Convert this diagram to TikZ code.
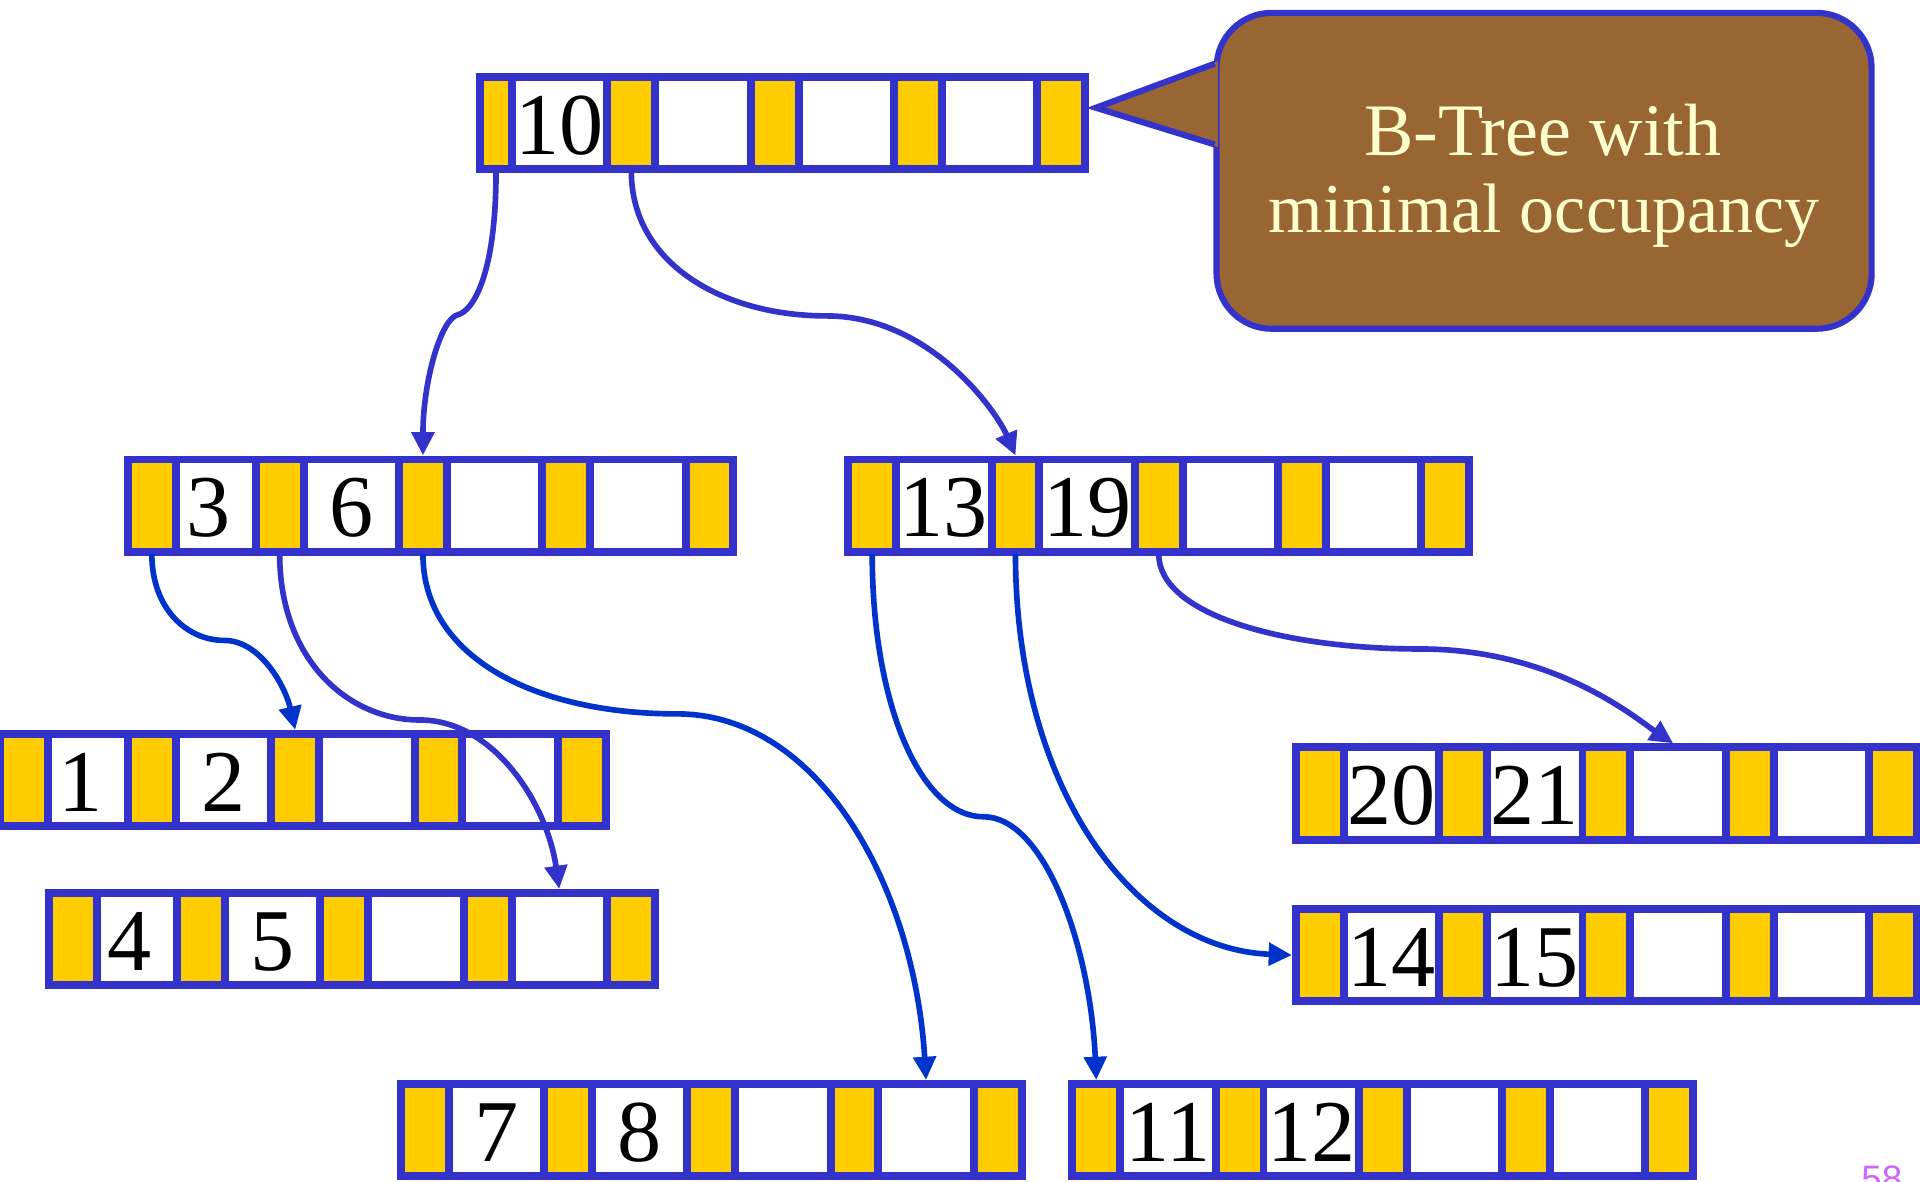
\documentclass[tikz,border=0pt]{standalone}
\usepackage{fontspec}
\setmainfont{Liberation Serif}
\newfontfamily\sansf{Liberation Sans}
\usetikzlibrary{arrows.meta,calc}
\definecolor{bblue}{HTML}{3333CC}
\definecolor{ablue}{HTML}{0033CC}
\definecolor{byel}{HTML}{FFCC00}
\definecolor{bbrown}{HTML}{996633}
\definecolor{btext}{HTML}{FFFFCC}
\definecolor{pnum}{HTML}{CC66FF}
\tikzset{
 ycell/.style={fill=byel, inner sep=0, outer sep=0, minimum height=69pt},
 wcell/.style={fill=white, inner sep=0, outer sep=0, minimum height=69pt},
 keytext/.style={inner sep=0, outer sep=0, font=\fontsize{72}{80}\selectfont,
   text height=48pt, text depth=0pt},
 link/.style={line width=4.6pt, -{Triangle[length=19pt,width=18pt]}},
 linka/.style={link, draw=bblue},
 linkb/.style={link, draw=ablue},
 ctext/.style={text=btext, inner sep=0, anchor=base},
}
\newcommand{\btnode}[7]{%
 \pgfmathsetmacro\bL{#2}%
 \pgfmathsetmacro\bT{#3}%
 \pgfmathsetmacro\bYa{#4}%
 \pgfmathsetmacro\bWa{#5}%
 \pgfmathsetmacro\bS{(\bWa-71.4)/2}%
 \pgfmathsetmacro\bX{\bL+19.5+\bYa+\bWa}%
 \pgfmathsetmacro\bR{\bX+390.1}%
 \fill[bblue] (\bL,\bT) rectangle (\bR,{\bT+82});
 \node[ycell, minimum width=\bYa pt] (#1-y1) at ({\bL+6.5+\bYa/2},{\bT+41}) {};
 \node[wcell, minimum width=\bWa pt] (#1-w1) at ({\bL+13+\bYa+\bWa/2},{\bT+41}) {};
 \foreach \i in {2,...,5} \node[ycell, minimum width=32.6pt] (#1-y\i) at ({\bX+(\i-2)*117+16.3},{\bT+41}) {};
 \foreach \i in {2,3,4} \node[wcell, minimum width=71.4pt] (#1-w\i) at ({\bX+(\i-2)*117+74.8},{\bT+41}) {};
 \node[keytext] (#1-k1) at ($(#1-w1.center)+(\bS,1.5)$) {#6};
 \node[keytext] (#1-k2) at ($(#1-w2.center)+(0,1.5)$) {#7};
}
\begin{document}
\begin{tikzpicture}[x=1pt,y=-1pt]
\useasboundingbox (0,0) rectangle (1568,965);
\fill[white] (0,0) rectangle (1568,965);
% B-tree nodes
\btnode{r}{388.8}{59.5}{19.6}{71.4}{10}{}
\btnode{a}{101.2}{372}{32.6}{58.8}{3}{6}
\btnode{b}{689.5}{372}{32.6}{71.4}{13}{19}
\btnode{c}{-3.1}{596}{32.6}{58.8}{1}{2}
\btnode{d}{37}{726}{32.6}{58.8}{4}{5}
\btnode{e}{1055.1}{607}{32.6}{71.4}{20}{21}
\btnode{f}{1055.1}{739}{32.6}{71.4}{14}{15}
\btnode{g}{324}{882}{32.6}{71.4}{7}{8}
\btnode{h}{872.5}{882}{32.6}{71.4}{11}{12}
% connectors
\draw[linka] ($(r-y1.south)+(0,5)$) .. controls +(0,85) and +(12,-3) .. (374,257)
  .. controls +(-14,3) and +(0,-60) .. ($(a-y3.north)+(0,-6.5)$);
\draw[linka] ($(r-y2.south)+(0,5)$) .. controls +(0,75) and +(-85,0) .. (675,258)
  .. controls +(85,0) and +(-15,-35) .. ($(b-y2.north)+(0,-6.5)$);
\draw[linkb] ($(a-y1.south)+(0,5)$) .. controls +(0,45) and +(-30,0) .. (183,523)
  .. controls +(30,0) and +(-8,-35) .. ($(c-y3.north)+(0,-6.5)$);
\draw[linka] ($(a-y2.south)+(0,5)$) .. controls +(0,85) and +(-60,0) .. (343,588)
  .. controls +(60,0) and +(-10,-70) .. ($(d-w4.north)+(0,-6.5)$);
\draw[linkb] ($(a-y3.south)+(0,5)$) .. controls +(0,85) and +(-115,0) .. (553,583)
  .. controls +(115,0) and +(-10,-160) .. ($(g-w4.north)+(0,-6.5)$);
\draw[linkb] ($(b-y1.south)+(0,5)$) .. controls +(0,125) and +(-50,0) .. (803,667)
  .. controls +(50,0) and +(-5,-110) .. ($(h-y1.north)+(0,-6.5)$);
\draw[linkb] ($(b-y2.south)+(0,5)$) .. controls +(0,190) and +(-130,-5) .. ($(f-y1.west)+(-6.5,0)$);
\draw[linka] ($(b-y3.south)+(0,5)$) .. controls +(0,50) and +(-110,0) .. (1160,530)
  .. controls +(110,0) and +(-30,-20) .. ($(e-w3.north)+(-4,-6.5)$);
% callout
\node[draw=bblue, line width=5pt, fill=bbrown, rounded corners=45pt,
  minimum width=535pt, minimum height=258pt, inner sep=0] (cb) at (1261,139.5) {};
\coordinate (tip) at (895,88);
\fill[bbrown] (994.5,50) -- (tip) -- (994.5,120) -- cycle;
\draw[bblue, line width=5pt, line join=miter] (992,52) -- (tip) -- (992,118);
\node[ctext, font=\fontsize{60.5}{63}\selectfont] (ct1) at (1260,127) {B-Tree with};
\node[ctext, font=\fontsize{57.2}{63}\selectfont] (ct2) at (1261,190) {minimal occupancy};
% page number
\node[anchor=north west, inner sep=0, text=pnum, font=\sansf\fontsize{30}{30}\selectfont] (pg) at (1520,952) {58};
\end{tikzpicture}
\end{document}
